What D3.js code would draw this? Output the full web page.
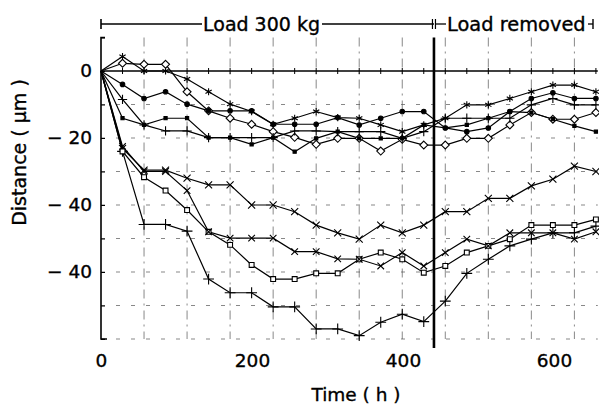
<!DOCTYPE html>
<html><head><meta charset="utf-8">
<script src="https://cdn.jsdelivr.net/npm/d3@7"></script>
<style>
body{margin:0;background:#fff}
svg{display:block}
text{font-family:"DejaVu Sans",sans-serif;fill:#000;stroke:#000;stroke-width:0.35px}
</style>
</head><body>
<svg id="c" width="599" height="405"></svg>
<script>
// ---- data ----
const times = [0,28.5,57,85.5,114,142.5,171,199.5,228,256.5,285,313.5,342,370.5,399,427.5,456,484.5,513,541.5,570,598.5,627,655.5];
const seriesNames = ["U1","U2","U3","U4","U5","L1","L2","L3","L4"];
const u1 = [0,4.3,0,0,-2.4,-6.2,-9.9,-12.1,-15.9,-14.1,-12.1,-13.9,-14.1,-16.1,-18.1,-16.1,-14.1,-10.1,-10.1,-8.2,-6.2,-4.2,-4.2,-6.2];
const u2 = [0,2.3,2,2,-6.2,-11.9,-14.1,-15.9,-18.1,-19.8,-21.9,-20.1,-20.1,-23.9,-20.4,-22.1,-22.1,-20.1,-20.1,-16.1,-12.4,-14.4,-14.4,-12.4];
const u3 = [0,-4,-8.2,-6.2,-9.9,-11.9,-11.9,-11.9,-15.9,-15.9,-15.9,-13.9,-16.1,-14.1,-12.1,-12.1,-17,-18.1,-17,-12.1,-8.2,-6.5,-8.2,-8.2];
const u4 = [0,-8.5,-16.1,-17.9,-17.9,-19.9,-19.9,-19.9,-19.9,-17.9,-17.9,-18.1,-18.1,-18.1,-20.1,-18.1,-14.1,-14.1,-14.1,-14.1,-10.1,-8.2,-10.1,-10.1];
const u5 = [0,-14.1,-16.1,-14.1,-14.1,-19.9,-19.9,-21.9,-19.9,-24.1,-20.1,-18.1,-20.1,-20.1,-20.1,-16.1,-17,-16.1,-14.1,-12.1,-12.4,-14.4,-16.4,-18.1];
const l1 = [0,-24,-45.8,-45.8,-47.8,-62.1,-66.2,-66.2,-70.4,-70.4,-77,-77,-79,-75,-72.6,-74.8,-68.7,-60.4,-56.2,-52.2,-50.2,-48.3,-48.3,-46.3];
const l2 = [0,-23.1,-29.6,-29.6,-32,-34,-34,-40,-40,-42,-46,-48.3,-50.2,-46,-48.3,-46,-42,-42,-38,-38,-34.3,-32.3,-28.4,-30];
const l3 = [0,-24,-31.7,-35.7,-41.5,-48,-51.9,-57.9,-62.1,-62.1,-60.4,-60.4,-56.2,-54.2,-56.2,-60.2,-58.2,-54.2,-52.2,-50.2,-46,-46,-46,-44.3];
const l4 = [0,-22.5,-30,-30,-35.7,-48,-49.9,-49.9,-49.9,-53.9,-53.9,-56.1,-56.2,-58.2,-54.2,-58.2,-54.2,-50.2,-52.2,-48.3,-48.3,-48.3,-50.2,-48];
const seriesValues = [u1,u2,u3,u4,u5,l1,l2,l3,l4];
const xTicks = [0,200,400,600];
const yTicks = [0,-20,-40,-60];
const yTickLabels = ["0","\u2212 20","\u2212 40","\u2212 40"];
const xGrid = [57,114,171,228,285,342,399,456,513,570,627];
const yGrid = [-10,-20,-30,-40,-50,-60,-70,-80];
const yMinor = [10,0,-10,-20,-30,-40,-50,-60,-70,-80];
const loadRemovedAt = 441;
const xTitle = "Time ( h )";
const yTitle = "Distance ( \u03bcm )";
const loadLabel = "Load 300 kg";
const removedLabel = "Load removed";

// ---- drawing ----
const svg = d3.select("#c");
const x = d3.scaleLinear().domain([0,658]).range([101,597.8]);
const y = d3.scaleLinear().domain([10,-80]).range([37.5,339]);

const markerTypes = [
  {sym:d3.symbolAsterisk, fill:"none", size:36},
  {sym:d3.symbolDiamond2, fill:"#fff", size:40},
  {sym:d3.symbolCircle, fill:"#000", size:16},
  {sym:d3.symbolPlus, fill:"none", size:30},
  {sym:d3.symbolSquare, fill:"#000", size:10},
  {sym:d3.symbolPlus, fill:"none", size:40},
  {sym:d3.symbolTimes, fill:"none", size:34},
  {sym:d3.symbolSquare2, fill:"#fff", size:30},
  {sym:d3.symbolTimes, fill:"none", size:30}
];

// grid
const g = svg.append("g");
g.selectAll(".vg").data(xGrid).join("line")
  .attr("x1",d=>x(d)).attr("x2",d=>x(d)).attr("y1",y(10)).attr("y2",y(-80))
  .attr("stroke","#555").attr("stroke-width",0.7).attr("stroke-dasharray","9,5,2,5");
g.selectAll(".hg").data(yGrid).join("line")
  .attr("x1",x(0)).attr("x2",x(658)).attr("y1",d=>y(d)).attr("y2",d=>y(d))
  .attr("stroke","#555").attr("stroke-width",0.7).attr("stroke-dasharray","4,11");

// zero line with ticks
g.append("line").attr("x1",x(0)).attr("x2",x(658)).attr("y1",y(0)).attr("y2",y(0))
  .attr("stroke","#000").attr("stroke-width",1.3);
g.selectAll(".zt").data(times.slice(1)).join("line")
  .attr("x1",d=>x(d)).attr("x2",d=>x(d)).attr("y1",y(0)-3).attr("y2",y(0)+3)
  .attr("stroke","#000").attr("stroke-width",1);

// y axis line + minor ticks
const yAxis = d3.axisRight(y).tickValues(yMinor).tickSize(4).tickFormat("");
const ya = svg.append("g").attr("transform",`translate(${x(0)},0)`).call(yAxis);
ya.select(".domain").attr("stroke","#000").attr("stroke-width",1.6).attr("d",`M4,${y(10)}H0V${y(-80)}H6`);
ya.selectAll(".tick line").attr("stroke","#000").attr("stroke-width",1);

// y labels
const yLab = d3.axisLeft(y).tickValues(yTicks).tickSize(0).tickPadding(9)
  .tickFormat((d,i)=>yTickLabels[i]);
const yl = svg.append("g").attr("transform",`translate(${x(0)},0)`).call(yLab);
yl.select(".domain").remove();
yl.selectAll("text").attr("font-family","DejaVu Sans").attr("font-size",18.5).attr("fill","#000");

// x labels
const xLab = d3.axisBottom(x).tickValues(xTicks).tickSize(0).tickPadding(0).tickFormat(d3.format("d"));
const xl = svg.append("g").attr("transform",`translate(0,${y(-80)})`).call(xLab);
xl.select(".domain").remove();
xl.selectAll("text").attr("font-family","DejaVu Sans").attr("font-size",18.5).attr("fill","#000")
  .attr("dy",null).attr("y",27.5);

// load removed thick line
svg.append("line").attr("x1",x(loadRemovedAt)).attr("x2",x(loadRemovedAt))
  .attr("y1",y(10)).attr("y2",y(-80)+9).attr("stroke","#000").attr("stroke-width",2.6);

// series
const line = d3.line().x((d,i)=>x(times[i])).y(d=>y(d));
seriesValues.forEach((vals,k)=>{
  svg.append("path").datum(vals).attr("d",line)
    .attr("fill","none").attr("stroke","#000").attr("stroke-width",1.2);
});
seriesValues.forEach((vals,k)=>{
  const m = markerTypes[k];
  const sym = d3.symbol().type(m.sym).size(m.size);
  svg.append("g").selectAll("path").data(vals.slice(1)).join("path")
    .attr("transform",(d,i)=>`translate(${x(times[i+1])},${y(d)})`)
    .attr("d",sym).attr("fill",m.fill).attr("stroke","#000").attr("stroke-width",1.1);
});

// load annotation
const ay = 24;
const ann = svg.append("g").attr("stroke","#000").attr("stroke-width",1.3);
ann.append("line").attr("x1",x(0)).attr("x2",x(0)).attr("y1",ay-5).attr("y2",ay+5).attr("stroke-width",1.6);
ann.append("line").attr("x1",x(0)).attr("x2",202).attr("y1",ay).attr("y2",ay);
ann.append("line").attr("x1",322).attr("x2",x(loadRemovedAt)).attr("y1",ay).attr("y2",ay);
ann.append("line").attr("x1",x(loadRemovedAt)-1.5).attr("x2",x(loadRemovedAt)-1.5).attr("y1",ay-5).attr("y2",ay+5).attr("stroke-width",1.2);
ann.append("line").attr("x1",x(loadRemovedAt)+1.5).attr("x2",x(loadRemovedAt)+1.5).attr("y1",ay-5).attr("y2",ay+5).attr("stroke-width",1.2);
ann.append("line").attr("x1",x(loadRemovedAt)+1.5).attr("x2",446).attr("y1",ay).attr("y2",ay);
ann.append("line").attr("x1",588).attr("x2",593).attr("y1",ay).attr("y2",ay);
ann.append("line").attr("x1",593).attr("x2",593).attr("y1",ay-5).attr("y2",ay+5).attr("stroke-width",1.4);
svg.append("text").attr("x",203).attr("y",31).attr("font-size",19).text(loadLabel);
svg.append("text").attr("x",447).attr("y",31).attr("font-size",19.4).text(removedLabel);

// titles
svg.append("text").attr("x",356).attr("y",401).attr("text-anchor","middle").attr("font-size",18.5).text(xTitle);
svg.append("text").attr("transform","translate(26,152.5) rotate(-90)").attr("text-anchor","middle").attr("font-size",19).text(yTitle);
</script>
</body></html>
